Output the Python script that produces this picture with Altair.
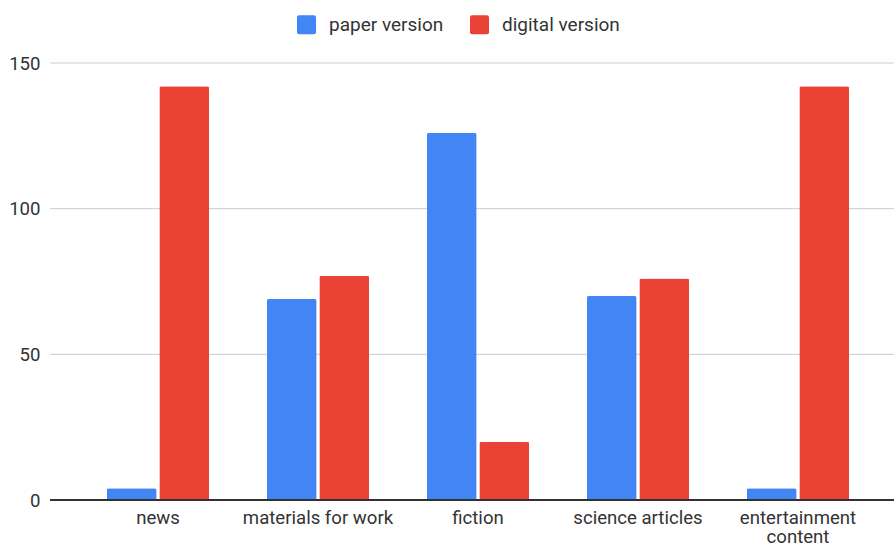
import altair as alt
import pandas as pd

# Reading-format survey: counts per content type
categories = ["news", "materials for work", "fiction", "science articles", "entertainment content"]
paper = [4, 69, 126, 70, 4]
digital = [142, 77, 20, 76, 142]
series = ["paper version", "digital version"]
colors = ["#4285F4", "#EA4335"]
y_ticks = [0, 50, 100, 150]

rows = []
for cat, p, d in zip(categories, paper, digital):
    rows.append({"category": cat, "version": series[0], "count": p})
    rows.append({"category": cat, "version": series[1], "count": d})
df = pd.DataFrame(rows)
grid_df = pd.DataFrame({"tick": [t for t in y_ticks if t != 0]})

FONT = "Roboto"
TEXT = "#333333"
AXIS_SIZE = 18.6
rounded_square = "M-0.78,-1H0.78Q1,-1 1,-0.78V0.78Q1,1 0.78,1H-0.78Q-1,1 -1,0.78V-0.78Q-1,-1 -0.78,-1Z"

y_scale = alt.Scale(domain=[0, 150], nice=False)

# full-width horizontal gridlines
grid = alt.Chart(grid_df).mark_rule(color="#cccccc", strokeWidth=1).encode(
    y=alt.Y("tick:Q", scale=y_scale)
)

bars = alt.Chart(df).mark_bar(cornerRadius=2).encode(
    x=alt.X(
        "category:N",
        sort=categories,
        title=None,
        scale=alt.Scale(range=[28, 828], paddingInner=0.36, paddingOuter=0.18),
        axis=alt.Axis(
            labelAngle=0,
            labelFont=FONT,
            labelFontSize=AXIS_SIZE,
            labelColor=TEXT,
            labelPadding=8,
            labelLineHeight=19,
            labelExpr="datum.label == 'entertainment content' ? ['entertainment', 'content'] : datum.label",
            ticks=False,
            domain=False,
            grid=False,
        ),
    ),
    xOffset=alt.XOffset(
        "version:N",
        sort=series,
        scale=alt.Scale(paddingInner=0.05, paddingOuter=0),
    ),
    y=alt.Y(
        "count:Q",
        title=None,
        scale=y_scale,
        axis=alt.Axis(
            values=y_ticks,
            labelFont=FONT,
            labelFontSize=AXIS_SIZE,
            labelColor=TEXT,
            labelPadding=10,
            ticks=False,
            domain=False,
            grid=False,
        ),
    ),
    color=alt.Color(
        "version:N",
        sort=series,
        scale=alt.Scale(domain=series, range=colors),
        legend=alt.Legend(
            title=None,
            orient="none",
            direction="horizontal",
            legendX=247,
            legendY=-48,
            symbolType=rounded_square,
            symbolSize=361,
            symbolStrokeWidth=0,
            symbolOpacity=1,
            labelFont=FONT,
            labelFontSize=19,
            labelColor=TEXT,
            labelOffset=13,
            columnPadding=26,
            padding=0,
        ),
    ),
)

# dark zero baseline across the whole plot width
baseline = alt.Chart(df).mark_rule(color="#333333", strokeWidth=1.5).encode(
    y=alt.datum(0)
)

chart = alt.layer(grid, bars, baseline).properties(
    width=844,
    height=437,
    padding={"left": 50, "top": 63, "right": 0, "bottom": 45},
    autosize="none",
).configure_view(stroke=None)

chart.save("out.html", embed_options={"renderer": "svg", "actions": False})
